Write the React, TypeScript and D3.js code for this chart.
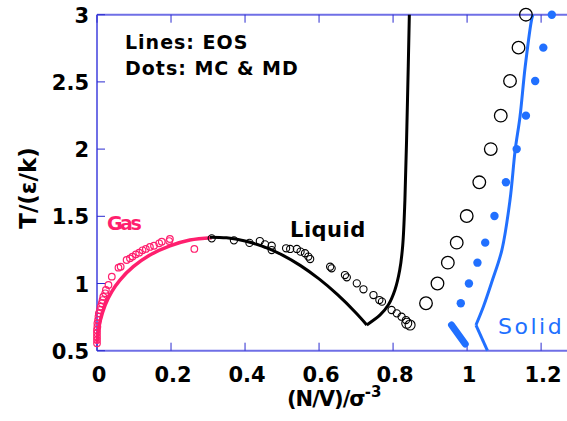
import React from 'react';
import * as d3 from 'd3';

// EOS curves (density, temperature)
const gasLine = [
  [0, 0.555], [0.002, 0.62], [0.008, 0.716], [0.022, 0.84], [0.04, 0.94],
  [0.062, 1.026], [0.098, 1.125], [0.143, 1.212], [0.197, 1.28], [0.251, 1.324], [0.31, 1.341],
];
const liquidLine = [
  [0.305, 1.345], [0.35, 1.34], [0.4, 1.316], [0.45, 1.274], [0.5, 1.213], [0.55, 1.133],
  [0.6, 1.034], [0.65, 0.917], [0.7, 0.781], [0.729, 0.692],
];
const meltLine = [
  [0.729, 0.692], [0.765, 0.766], [0.787, 0.84], [0.805, 0.952], [0.818, 1.1],
  [0.826, 1.28], [0.832, 1.62], [0.839, 2.365], [0.844, 3.0],
];
const solidLineLow = [[1.055, 0.5], [1.024, 0.691]];
const solidLine = [
  [1.024, 0.691], [1.044, 0.827], [1.067, 1.013], [1.094, 1.249], [1.116, 1.621],
  [1.13, 1.994], [1.143, 2.241], [1.157, 2.613], [1.175, 2.973], [1.178, 3.0],
];
const coexistBar = [[0.958, 0.691], [0.995, 0.55]];

// simulation points
const gasDots = [
  [0, 0.555], [0, 0.58], [0, 0.604], [0, 0.63], [0, 0.654], [0.001, 0.679], [0.001, 0.704],
  [0.003, 0.728], [0.004, 0.753], [0.005, 0.778], [0.008, 0.803], [0.01, 0.828], [0.013, 0.853],
  [0.015, 0.877], [0.017, 0.902], [0.022, 0.927], [0.024, 0.952], [0.031, 0.989], [0.04, 1.051],
  [0.058, 1.118], [0.064, 1.125], [0.08, 1.175], [0.089, 1.187], [0.096, 1.2], [0.105, 1.217],
  [0.114, 1.229], [0.123, 1.247], [0.132, 1.257], [0.143, 1.272], [0.154, 1.281], [0.168, 1.299],
  [0.175, 1.311], [0.195, 1.316], [0.197, 1.331], [0.263, 1.257],
];
const liquidDots = [
  [0.31, 1.336], [0.37, 1.321], [0.412, 1.302], [0.44, 1.316], [0.454, 1.291], [0.472, 1.281],
  [0.472, 1.249], [0.511, 1.262], [0.522, 1.257], [0.54, 1.257], [0.55, 1.237], [0.562, 1.225],
  [0.571, 1.2], [0.576, 1.182], [0.63, 1.125], [0.634, 1.113], [0.67, 1.063], [0.675, 1.046],
  [0.702, 1.001], [0.72, 0.957], [0.747, 0.914], [0.763, 0.877], [0.77, 0.865], [0.796, 0.803],
  [0.81, 0.778], [0.823, 0.753], [0.835, 0.728], [0.837, 0.704], [0.846, 0.691],
];
const mcSolidDots = [
  [0.889, 0.853], [0.92, 1.0], [0.948, 1.155], [0.972, 1.304], [0.999, 1.502], [1.033, 1.753],
  [1.064, 2.0], [1.091, 2.249], [1.116, 2.507], [1.139, 2.755], [1.159, 3.0],
];
const mdSolidDots = [
  [0.983, 0.853], [1.005, 1.0], [1.028, 1.155], [1.049, 1.304], [1.074, 1.502], [1.105, 1.753],
  [1.134, 2.0], [1.159, 2.249], [1.184, 2.507], [1.206, 2.755], [1.229, 3.0],
];

const xTicks = [0, 0.2, 0.4, 0.6, 0.8, 1, 1.2];
const yTicks = [0.5, 1, 1.5, 2, 2.5, 3];

const W = 567;
const H = 421;
const PINK = '#ff1f6e';
const BLUE = '#2170ff';
const AXIS = '#6f6fe6';
const TICK = '#2a2ad0';
const FONT = '"DejaVu Sans", Verdana, sans-serif';

export default function App() {
  const x = d3.scaleLinear().domain([0, 1.27]).range([97, 567]);
  const y = d3.scaleLinear().domain([0.5, 3]).range([350.7, 14.7]);

  const smooth = d3.line<number[]>().x(d => x(d[0])).y(d => y(d[1])).curve(d3.curveCatmullRom);
  const straight = d3.line<number[]>().x(d => x(d[0])).y(d => y(d[1]));

  const fmt = (v: number) => (v === 0 ? '0' : String(v));

  return (
    <svg width={W} height={H} style={{ position: 'absolute', left: 0, top: 0, background: '#fff' }}
      fontFamily={FONT}>
      {/* frame */}
      <line x1={x(0)} x2={W} y1={y(0.5)} y2={y(0.5)} stroke={AXIS} strokeWidth={2} />
      <line x1={x(0)} x2={W} y1={y(3)} y2={y(3)} stroke={AXIS} strokeWidth={2} />
      <line x1={x(0)} x2={x(0)} y1={y(0.5)} y2={y(3)} stroke={AXIS} strokeWidth={2} />
      {xTicks.map(t => (
        <g key={`xt-${t}`}>
          <line x1={x(t)} x2={x(t)} y1={y(0.5)} y2={y(0.5) - 8} stroke={TICK} strokeWidth={1} />
          <line x1={x(t)} x2={x(t)} y1={y(3)} y2={y(3) + 8} stroke={TICK} strokeWidth={1} />
          <text x={x(t) + 2} y={382} textAnchor="middle" fontSize={21} fontWeight="bold">{fmt(t)}</text>
        </g>
      ))}
      {yTicks.map(t => (
        <g key={`yt-${t}`}>
          <line x1={x(0)} x2={x(0) + 8} y1={y(t)} y2={y(t)} stroke={TICK} strokeWidth={1} />
          <text x={89} y={y(t) + 8} textAnchor="end" fontSize={21} fontWeight="bold">{fmt(t)}</text>
        </g>
      ))}

      {/* EOS lines */}
      <path d={smooth(gasLine) ?? ''} fill="none" stroke={PINK} strokeWidth={3.5} />
      <path d={smooth(liquidLine) ?? ''} fill="none" stroke="#000" strokeWidth={3} />
      <path d={smooth(meltLine) ?? ''} fill="none" stroke="#000" strokeWidth={3} />
      <path d={straight(solidLineLow) ?? ''} fill="none" stroke={BLUE} strokeWidth={3} />
      <path d={smooth(solidLine) ?? ''} fill="none" stroke={BLUE} strokeWidth={3} />
      <path d={straight(coexistBar) ?? ''} fill="none" stroke={BLUE} strokeWidth={7} strokeLinecap="round" />

      {/* simulation points */}
      {gasDots.map((d, i) => (
        <circle key={`g-${i}`} cx={x(d[0])} cy={y(d[1])} r={3.3} fill="none" stroke={PINK} strokeWidth={1.2} />
      ))}
      {liquidDots.map((d, i) => (
        <circle key={`l-${i}`} cx={x(d[0])} cy={y(d[1])} r={i > liquidDots.length - 3 ? 5 : 3.6}
          fill="none" stroke="#000" strokeWidth={1.1} />
      ))}
      {mcSolidDots.map((d, i) => (
        <circle key={`mc-${i}`} cx={x(d[0])} cy={y(d[1])} r={6.3} fill="none" stroke="#000" strokeWidth={1.3} />
      ))}
      {mdSolidDots.map((d, i) => (
        <circle key={`md-${i}`} cx={x(d[0])} cy={y(d[1])} r={4.2} fill={BLUE} />
      ))}

      {/* labels */}
      <text x={125} y={49} fontSize={19} fontWeight="bold" letterSpacing={1}>Lines: EOS</text>
      <text x={125} y={75} fontSize={19} fontWeight="bold" letterSpacing={1}>Dots: MC &amp; MD</text>
      <text x={107} y={230} fontSize={19} fontWeight="bold" fill={PINK} letterSpacing={-2.5}>Gas</text>
      <text x={290} y={237} fontSize={21} fontWeight="bold" letterSpacing={0.5}>Liquid</text>
      <text x={498} y={334} fontSize={22} fill={BLUE} letterSpacing={2.5}>Solid</text>

      <text transform="translate(36,188) rotate(-90)" textAnchor="middle" fontSize={23} fontWeight="bold">T/(ε/k)</text>
      <text x={287} y={406} fontSize={21} fontWeight="bold">
        <tspan letterSpacing={-1}>(N/V)/σ</tspan>
        <tspan dy={-9} fontSize={15}>-3</tspan>
      </text>
    </svg>
  );
}
